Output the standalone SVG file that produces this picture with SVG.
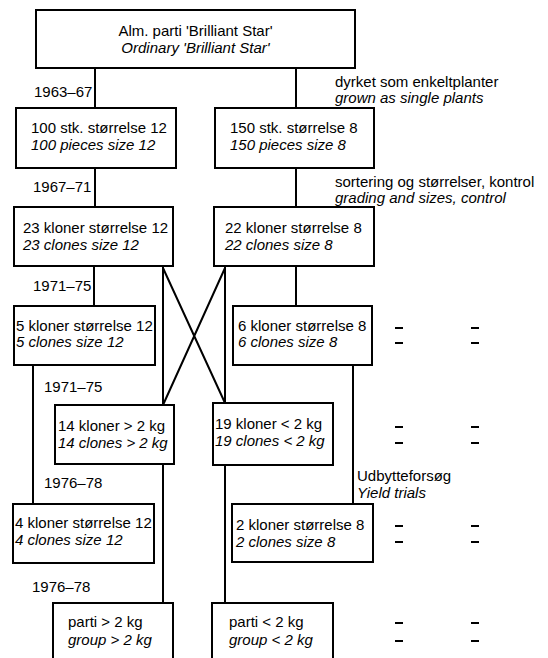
<svg xmlns="http://www.w3.org/2000/svg" width="548" height="658" viewBox="0 0 548 658">
<style>
.box{fill:none;stroke:#000;stroke-width:2}
.ln{fill:none;stroke:#000;stroke-width:2}
.dash{stroke:#000;stroke-width:2}
text{font-family:"Liberation Sans",Arial,sans-serif;font-size:15px;fill:#000}
.it{font-style:italic}
.mid{text-anchor:middle}
</style>
<rect width="548" height="658" fill="#fff"/>
<g id="connectors">
<path class="ln" d="M95,68V108M296,68V108"/>
<path class="ln" d="M95,168V207M296,168V207"/>
<path class="ln" d="M94,266V306M296,266V306"/>
<path class="ln" d="M163,266V405M225,266V403"/>
<path class="ln" d="M163,268L225,403M225,268L163,405"/>
<path class="ln" d="M33,365V504M353,365V504"/>
<path class="ln" d="M163,464V603M225,465V603"/>
</g>
<g id="labels">
<text x="34" y="97">1963–67</text>
<text x="335" y="87">dyrket som enkeltplanter</text>
<text x="335" y="103" class="it">grown as single plants</text>
<text x="33" y="192">1967–71</text>
<text x="335" y="187">sortering og størrelser, kontrol</text>
<text x="335" y="203" class="it">grading and sizes, control</text>
<text x="33" y="291">1971–75</text>
<text x="44" y="392">1971–75</text>
<text x="357" y="481">Udbytteforsøg</text>
<text x="357" y="498" class="it">Yield trials</text>
<text x="44" y="488">1976–78</text>
<text x="32" y="592">1976–78</text>
</g>
<g id="dashes">
<path class="dash" d="M395,328h8M471,328h8M395,343h8M471,343h8"/>
<path class="dash" d="M395,427h8M471,427h8M395,443h8M471,443h8"/>
<path class="dash" d="M395,526h8M471,526h8M395,542h8M471,542h8"/>
<path class="dash" d="M395,623h8M471,623h8M395,641h8M471,641h8"/>
</g>
<g id="n0">
<rect class="box" x="36" y="10" width="319" height="58"/>
<text x="195.5" y="36" class="mid">Alm. parti 'Brilliant Star'</text>
<text x="195.5" y="53" class="mid it">Ordinary 'Brilliant Star'</text>
</g>
<g id="a1">
<rect class="box" x="16" y="108" width="160" height="60"/>
<text x="31" y="133">100 stk. størrelse 12</text>
<text x="31" y="150" class="it">100 pieces size 12</text>
</g>
<g id="b1">
<rect class="box" x="215" y="108" width="159" height="60"/>
<text x="230" y="133">150 stk. størrelse 8</text>
<text x="230" y="150" class="it">150 pieces size 8</text>
</g>
<g id="a2">
<rect class="box" x="14" y="207" width="159" height="59"/>
<text x="23" y="233">23 kloner størrelse 12</text>
<text x="23" y="250" class="it">23 clones size 12</text>
</g>
<g id="b2">
<rect class="box" x="214" y="207" width="160" height="59"/>
<text x="225" y="233">22 kloner størrelse 8</text>
<text x="225" y="250" class="it">22 clones size 8</text>
</g>
<g id="a3">
<rect class="box" x="14" y="306" width="141" height="59"/>
<text x="16" y="331">5 kloner størrelse 12</text>
<text x="16" y="347" class="it">5 clones size 12</text>
</g>
<g id="b3">
<rect class="box" x="233" y="306" width="139" height="59"/>
<text x="238" y="331">6 kloner størrelse 8</text>
<text x="238" y="347" class="it">6 clones size 8</text>
</g>
<g id="a4">
<rect class="box" x="55" y="405" width="119" height="59"/>
<text x="58" y="431">14 kloner &gt; 2 kg</text>
<text x="58" y="448" class="it">14 clones &gt; 2 kg</text>
</g>
<g id="b4">
<rect class="box" x="213" y="403" width="120" height="62"/>
<text x="215" y="429">19 kloner &lt; 2 kg</text>
<text x="215" y="446" class="it">19 clones &lt; 2 kg</text>
</g>
<g id="a5">
<rect class="box" x="13" y="504" width="141" height="59"/>
<text x="15" y="528">4 kloner størrelse 12</text>
<text x="15" y="545" class="it">4 clones size 12</text>
</g>
<g id="b5">
<rect class="box" x="232" y="504" width="141" height="58"/>
<text x="236" y="530">2 kloner størrelse 8</text>
<text x="236" y="547" class="it">2 clones size 8</text>
</g>
<g id="a6">
<path class="box" d="M53,660V603H173V660"/>
<text x="68" y="627">parti &gt; 2 kg</text>
<text x="68" y="645" class="it">group &gt; 2 kg</text>
</g>
<g id="b6">
<path class="box" d="M212,660V603H333V660"/>
<text x="229" y="627">parti &lt; 2 kg</text>
<text x="229" y="645" class="it">group &lt; 2 kg</text>
</g>
</svg>
